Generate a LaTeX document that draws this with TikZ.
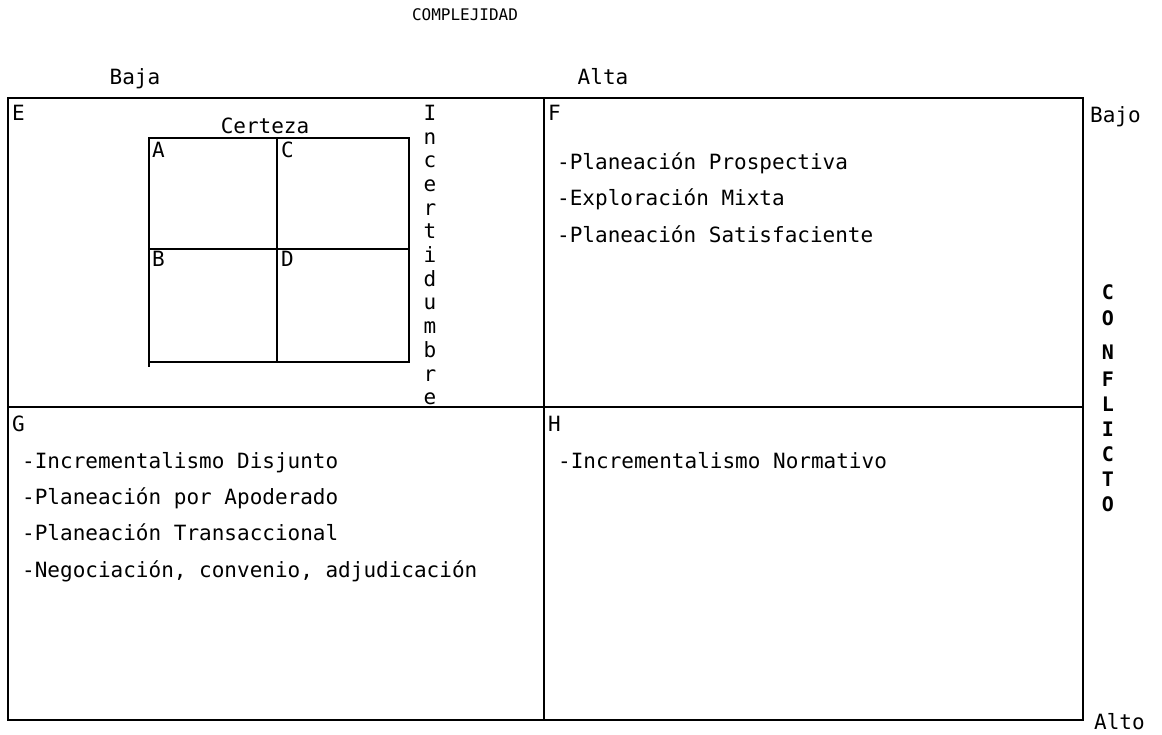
\documentclass[tikz,border=0pt]{standalone}
\usepackage{fontspec}
\setmainfont{DejaVu Sans Mono}
\begin{document}
\begin{tikzpicture}[x=1pt,y=-1pt,
  body/.style={inner sep=0pt, font=\fontsize{21}{24}\selectfont},
  itemtxt/.style={body, anchor=base west},
  ctr/.style={body, anchor=base},
  lbl/.style={body, anchor=base west},
  head/.style={inner sep=0pt, anchor=base, font=\fontsize{16}{18}\selectfont},
  vlet/.style={body, anchor=base},
  clet/.style={inner sep=0pt, anchor=base, font=\fontsize{20}{22}\selectfont\bfseries},
  frame/.style={line width=2.5pt, line cap=rect},
  grid/.style={line width=2.5pt, line cap=rect},
]
\useasboundingbox (0,0) rectangle (1162,734);
% outer frame coordinates
\coordinate (tl) at (8,98);
\coordinate (tr) at (1083,98);
\coordinate (bl) at (8,720);
\coordinate (br) at (1083,720);
\coordinate (tm) at (544,98);
\coordinate (bm) at (544,720);
\coordinate (ml) at (8,407);
\coordinate (mr) at (1083,407);
\draw[frame] (tl) -- (tr) -- (br) -- (bl) -- cycle;
\draw[frame] (tm) -- (bm);
\draw[frame] (ml) -- (mr);
% inner grid
\coordinate (gtl) at (149,138);
\coordinate (gbr) at (409,362);
\coordinate (gtm) at (277,138);
\coordinate (gbm) at (277,362);
\coordinate (gml) at (149,249);
\coordinate (gmr) at (409,249);
\coordinate (gll) at (149,366);
\draw[grid] (gtl) rectangle (gbr);
\draw[grid] (gtl) -- (gll);
\draw[grid] (gtm) -- (gbm);
\draw[grid] (gml) -- (gmr);
% headers
\node[head] (complej) at (465,20) {COMPLEJIDAD};
\node[ctr] (baja) at (135,84) {Baja};
\node[ctr] (alta) at (603,84) {Alta};
\node[lbl] (bajo) at (1090,122) {Bajo};
\node[lbl] (alto) at (1094,729) {Alto};
% quadrant labels
\node[lbl] (E) at (12,120) {E};
\node[lbl] (F) at (548,120) {F};
\node[lbl] (G) at (12,431) {G};
\node[lbl] (H) at (548,431) {H};
\node[lbl] (A) at (152,157) {A};
\node[lbl] (C) at (281,157) {C};
\node[lbl] (B) at (152,266) {B};
\node[lbl] (D) at (281,266) {D};
\node[ctr] (certeza) at (265,133) {Certeza};
% Incertidumbre (vertical)
\foreach \ch [count=\i from 0] in {I,n,c,e,r,t,i,d,u,m,b,r,e}
  \node[vlet] (inc\i) at (430,{120.3+23.7*\i}) {\ch};
% CONFLICTO (vertical)
\node[clet] (k1) at (1108,299) {C};
\node[clet] (k2) at (1108,325) {O};
\node[clet] (k3) at (1108,359) {N};
\node[clet] (k4) at (1108,386) {F};
\node[clet] (k5) at (1108,411) {L};
\node[clet] (k6) at (1108,436) {I};
\node[clet] (k7) at (1108,461) {C};
\node[clet] (k8) at (1108,486) {T};
\node[clet] (k9) at (1108,511) {O};
% F items
\node[itemtxt] (f1) at (557,169) {-Planeación Prospectiva};
\node[itemtxt] (f2) at (557,205) {-Exploración Mixta};
\node[itemtxt] (f3) at (557,242) {-Planeación Satisfaciente};
% G items
\node[itemtxt] (g1) at (22,468) {-Incrementalismo Disjunto};
\node[itemtxt] (g2) at (22,504) {-Planeación por Apoderado};
\node[itemtxt] (g3) at (22,540) {-Planeación Transaccional};
\node[itemtxt] (g4) at (22,577) {-Negociación, convenio, adjudicación};
% H items
\node[itemtxt] (h1) at (558,468) {-Incrementalismo Normativo};
\end{tikzpicture}
\end{document}
